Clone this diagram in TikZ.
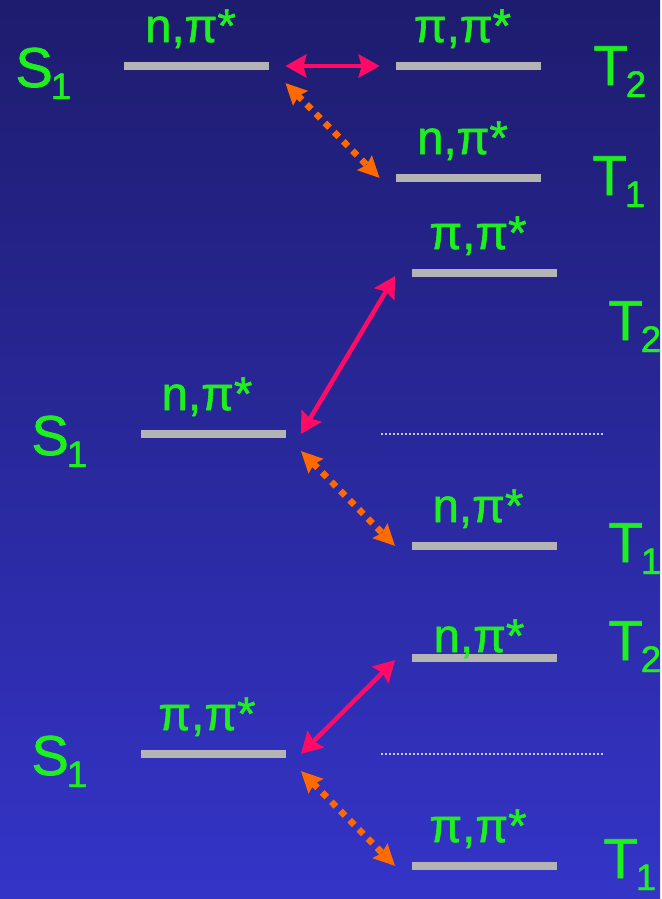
\documentclass[tikz,border=0pt]{standalone}
\usepackage{fontspec}
\setmainfont{Liberation Sans}[BoldFont=Liberation Sans,BoldFeatures={FakeBold=1.2}]
\usetikzlibrary{arrows.meta,calc}
\definecolor{jbtop}{HTML}{1E1C6E}
\definecolor{jbbot}{HTML}{3434C8}
\definecolor{jbgreen}{HTML}{1EF01E}
\definecolor{jbgrey}{HTML}{B4B4B4}
\definecolor{jbpink}{HTML}{FF0A64}
\definecolor{jborange}{HTML}{FF6A00}
\definecolor{jbdots}{HTML}{C8C8F0}
\tikzset{
  level/.style={rectangle,fill=jbgrey,inner sep=0pt,minimum width=2.9cm,minimum height=.16cm},
  orb/.style={anchor=base,inner sep=0pt,text=jbgreen,font=\fontsize{27}{27}\selectfont\bfseries},
  state/.style={anchor=base west,inner sep=0pt,text=jbgreen,font=\fontsize{32}{32}\selectfont\bfseries},
  soc/.style={{Stealth[length=.42cm,width=.46cm,inset=.06cm]}-{Stealth[length=.42cm,width=.46cm,inset=.06cm]},draw=jbpink,line width=.09cm},
  vib/.style={{Stealth[length=.42cm,width=.4cm,inset=.05cm]}-{Stealth[length=.42cm,width=.4cm,inset=.05cm]},draw=jborange,line width=.13cm,dash pattern=on .13cm off .13cm},
  refline/.style={draw=jbdots,line width=.04cm,dash pattern=on .04cm off .04cm},
}
\newcommand{\stlab}[2]{#1\kern-.04cm\raisebox{-.24cm}{\fontsize{21}{21}\selectfont #2}}

\begin{document}
\begin{tikzpicture}
  \shade[top color=jbtop,bottom color=jbbot] (0,0) rectangle (13.2,-17.98);
  % levels
  \node[level] (s1a) at (3.93,-1.32) {};
  \node[level] (t2a) at (9.37,-1.32) {};
  \node[level] (t1a) at (9.37,-3.56) {};
  \node[level] (s1b) at (4.26,-8.68) {};
  \node[level] (t2b) at (9.68,-5.46) {};
  \node[level] (t1b) at (9.68,-10.92) {};
  \node[level] (s1c) at (4.26,-15.08) {};
  \node[level] (t2c) at (9.68,-13.16) {};
  \node[level] (t1c) at (9.68,-17.32) {};
  % orbital characters
  \foreach \lv/\txt in {s1a/{n,π*},t2a/{π,π*},t1a/{n,π*},s1b/{n,π*},t2b/{π,π*},t1b/{n,π*},s1c/{π,π*},t1c/{π,π*}} {
    \node[orb] (o\lv) at ([xshift=-.12cm,yshift=.48cm]\lv.center) {\txt};
  }
  \node[orb] (ot2c) at ([xshift=-.1cm,yshift=.12cm]t2c.center) {n,π*};
  % states
  \foreach \nm/\pos/\a/\b in {sa/{(0.30,-1.74)}/S/1,ta2/{(11.86,-1.70)}/T/2,ta1/{(11.84,-3.90)}/T/1,
      sb/{(0.62,-9.10)}/S/1,tb2/{(12.16,-6.80)}/T/2,tb1/{(12.16,-11.24)}/T/1,
      sc/{(0.62,-15.50)}/S/1,tc2/{(12.16,-13.20)}/T/2,tc1/{(12.06,-17.56)}/T/1} {
    \node[state] (\nm) at \pos {\stlab{\a}{\b}};
  }
  % couplings
  \draw[soc] ([xshift=.32cm]s1a.east) -- ([xshift=-.32cm]t2a.west);
  \draw[vib] ([xshift=.32cm,yshift=-.34cm]s1a.east) -- ([xshift=-.32cm]t1a.west);
  \draw[soc] ([xshift=.3cm]s1b.east) -- ([xshift=-.32cm,yshift=-.06cm]t2b.west);
  \draw[vib] ([xshift=.3cm,yshift=-.34cm]s1b.east) -- ([xshift=-.32cm]t1b.west);
  \draw[soc] ([xshift=.3cm]s1c.east) -- ([xshift=-.32cm,yshift=-.04cm]t2c.west);
  \draw[vib] ([xshift=.3cm,yshift=-.34cm]s1c.east) -- ([xshift=-.32cm]t1c.west);
  \draw[refline] ([xshift=1.9cm]s1b.east) -- ++(4.44,0);
  \draw[refline] ([xshift=1.9cm]s1c.east) -- ++(4.44,0);
\end{tikzpicture}
\end{document}
